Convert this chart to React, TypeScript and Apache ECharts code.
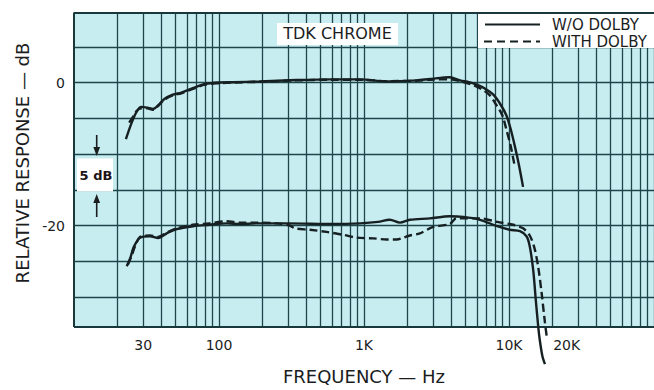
import React, { useEffect, useRef } from "react";
import * as echarts from "echarts";

// ---------- data ----------
const UPPER_SOLID_F = [22.8, 25, 27, 29, 32, 35, 38, 42, 48, 55, 62, 70, 80, 100, 125, 190, 340, 600, 940, 1430, 2300, 2850, 3900, 4600, 5300, 6000, 6900, 7800, 8700, 9600, 10300, 11000, 11700, 12500];
const UPPER_SOLID_DB = [-7.9, -5.6, -4.1, -3.4, -3.5, -3.7, -3.2, -2.3, -1.7, -1.4, -1.0, -0.6, -0.2, 0, 0.05, 0.15, 0.35, 0.45, 0.45, 0.15, 0.3, 0.5, 0.75, 0.3, 0.05, -0.3, -0.9, -1.7, -3.0, -4.6, -6.6, -9.0, -11.5, -14.6];

const UPPER_DASH_F = [24, 25.5, 27, 29, 32, 35, 38, 42, 48, 55, 62, 70, 80, 100, 125, 190, 340, 600, 940, 1430, 2300, 2850, 3900, 4600, 5600, 6450, 7300, 8100, 9000, 9600, 10300, 10900];
const UPPER_DASH_DB = [-5.6, -4.8, -4.0, -3.6, -3.6, -3.8, -3.3, -2.4, -1.8, -1.5, -1.1, -0.7, -0.3, -0.1, 0.0, 0.1, 0.3, 0.4, 0.4, 0.2, 0.25, 0.4, 0.45, 0.2, -0.3, -0.9, -1.7, -3.0, -4.6, -6.6, -9.0, -11.5];

const LOWER_SOLID_F = [23.1, 24.5, 25.7, 28.5, 33.4, 38.1, 43.6, 51.1, 66.5, 86, 113, 140, 182, 307, 610, 940, 1250, 1505, 1770, 2070, 2850, 3900, 4850, 6300, 8300, 10100, 11900, 13200, 13900, 14700, 15300, 15900, 16300, 17000, 17700];
const LOWER_SOLID_DB = [-25.7, -24.5, -23.1, -21.7, -21.5, -21.75, -21.1, -20.5, -20.1, -19.9, -19.7, -19.8, -19.7, -19.7, -19.8, -19.7, -19.5, -19.2, -19.6, -19.2, -19.0, -18.7, -18.8, -19.2, -20.1, -20.6, -20.8, -21.5, -22.9, -26.3, -30.4, -34.1, -36.0, -38.3, -39.4];

const LOWER_DASH_F = [23.5, 25, 26.5, 28.5, 33.4, 38, 43.6, 51, 66, 86, 113, 140, 182, 250, 307, 335, 424, 552, 717, 890, 1160, 1430, 1680, 1870, 2070, 2430, 3000, 3900, 4340, 6300, 8300, 10700, 12500, 13900, 15000, 15900, 16800, 17700, 18200];
const LOWER_DASH_DB = [-25.5, -24.2, -22.8, -21.6, -21.4, -21.6, -21.0, -20.4, -19.9, -19.7, -19.4, -19.6, -19.6, -19.7, -20.0, -20.4, -20.6, -20.9, -21.3, -21.7, -21.8, -21.95, -21.95, -21.7, -21.4, -21.1, -20.2, -19.8, -19.0, -19.0, -19.5, -19.9, -20.4, -21.4, -23.2, -25.8, -29.5, -33.6, -35.5];

const X_LABEL_VALUES = [30, 100, 1000, 10000, 20000];
const X_LABEL_TEXT = ["30", "100", "1K", "10K", "20K"];
const Y_LABEL_VALUES = [0, -20];
const Y_LABEL_TEXT = ["0", "-20"];
const GRID_DB = [-30, -25, -20, -15, -10, -5, 0, 5];
const X_MIN = 10;
const X_MAX = 100000;
const Y_MIN = -34.2;
const Y_MAX = 9.8;

const SERIES_SOLID = "W/O DOLBY";
const SERIES_DASH = "WITH DOLBY";

// ---------- styles ----------
const FONT = "DejaVu Sans";
const INK = "#1b1d1e";
const GRID_COLOR = "#1d464b";
const PAPER = "#c8edf1";
const CURVE = "#162022";

const gridFreqs: number[] = [];
for (const dec of [10, 100, 1000, 10000]) {
  for (let k = 2; k <= 9; k++) gridFreqs.push(dec * k);
  gridFreqs.push(dec * 10);
}

const zip = (f: number[], d: number[]) => f.map((v, i) => [v, d[i]]);

function labelIndex(v: number) {
  return X_LABEL_VALUES.findIndex((c) => Math.abs(Math.log10(c) - Math.log10(v)) < 0.01);
}

export default function App() {
  const ref = useRef<HTMLDivElement>(null);
  useEffect(() => {
    if (!ref.current) return;
    const chart = echarts.init(ref.current, null, { renderer: "svg" });

    const curve = (name: string, data: number[][], dashed: boolean) => ({
      type: "line",
      name,
      data,
      symbol: "none",
      showSymbol: false,
      smooth: 0.3,
      clip: false,
      z: 5,
      silent: true,
      lineStyle: { color: CURVE, width: 2.4, type: dashed ? [8, 4] : "solid" },
    });

    const option: any = {
      animation: false,
      backgroundColor: "#ffffff",
      grid: {
        left: 74,
        right: 0,
        top: 12.5,
        bottom: 56.3,
        show: true,
        backgroundColor: PAPER,
        borderWidth: 0,
      },
      xAxis: {
        type: "log",
        logBase: 10,
        min: X_MIN,
        max: X_MAX,
        axisLine: { show: false },
        axisTick: { show: false },
        splitLine: { show: false },
        axisLabel: {
          customValues: X_LABEL_VALUES,
          margin: 11,
          fontSize: 14,
          fontFamily: FONT,
          color: INK,
          formatter: (v: number) => {
            const i = labelIndex(v);
            if (i < 0) return "";
            return i === X_LABEL_VALUES.length - 1 ? "{s|" + X_LABEL_TEXT[i] + "}" : X_LABEL_TEXT[i];
          },
          rich: { s: { padding: [0, 0, 0, 28], fontSize: 14, fontFamily: FONT, color: INK } },
        },
        name: "FREQUENCY — Hz",
        nameLocation: "middle",
        nameGap: 40,
        nameTextStyle: { fontSize: 18, fontFamily: FONT, color: INK },
      },
      yAxis: {
        type: "value",
        min: Y_MIN,
        max: Y_MAX,
        axisLine: { show: false },
        axisTick: { show: false },
        splitLine: { show: false },
        axisLabel: {
          customValues: Y_LABEL_VALUES,
          margin: 9,
          fontSize: 14,
          fontFamily: FONT,
          color: INK,
          formatter: (v: number) => {
            const i = Y_LABEL_VALUES.findIndex((c) => Math.abs(c - v) < 0.01);
            return i < 0 ? "" : Y_LABEL_TEXT[i];
          },
        },
      },
      series: [
        {
          type: "line",
          name: "grid",
          data: [],
          z: 1,
          silent: true,
          markLine: {
            silent: true,
            symbol: ["none", "none"],
            label: { show: false },
            emphasis: { disabled: true },
            lineStyle: { color: GRID_COLOR, width: 1.3, type: "solid" },
            data: [
              ...gridFreqs.map((f) => ({ xAxis: f })),
              ...GRID_DB.map((d) => ({ yAxis: d })),
              { xAxis: X_MIN, lineStyle: { width: 2, color: "#18383b" } },
              { yAxis: Y_MIN, lineStyle: { width: 2, color: "#18383b" } },
              { yAxis: Y_MAX, lineStyle: { width: 2, color: "#18383b" } },
            ],
          },
        },
        curve(SERIES_SOLID, zip(UPPER_SOLID_F, UPPER_SOLID_DB), false),
        curve(SERIES_DASH, zip(UPPER_DASH_F, UPPER_DASH_DB), true),
        curve(SERIES_SOLID, zip(LOWER_SOLID_F, LOWER_SOLID_DB), false),
        curve(SERIES_DASH, zip(LOWER_DASH_F, LOWER_DASH_DB), true),
      ],
      graphic: [
        // y axis title
        {
          type: "text",
          x: 22,
          y: 163,
          rotation: Math.PI / 2,
          z: 100,
          style: {
            text: "RELATIVE RESPONSE — dB",
            font: `18px "${FONT}"`,
            fill: INK,
            align: "center",
            verticalAlign: "middle",
          },
        },
        // TDK CHROME box
        { type: "rect", z: 100, shape: { x: 277, y: 23, width: 121, height: 22 }, style: { fill: "#ffffff" } },
        {
          type: "text",
          x: 337.5,
          y: 33,
          z: 101,
          style: { text: "TDK CHROME", font: `16px "${FONT}"`, fill: INK, align: "center", verticalAlign: "middle" },
        },
        // legend box
        { type: "rect", z: 100, shape: { x: 478, y: 14, width: 176, height: 34 }, style: { fill: "#ffffff" } },
        { type: "line", z: 101, shape: { x1: 485, y1: 24.5, x2: 540, y2: 24.5 }, style: { stroke: CURVE, lineWidth: 2.2 } },
        {
          type: "line",
          z: 101,
          shape: { x1: 484, y1: 41.5, x2: 540, y2: 41.5 },
          style: { stroke: CURVE, lineWidth: 2.2, lineDash: [8, 5] },
        },
        {
          type: "text",
          x: 552,
          y: 24.5,
          z: 101,
          style: { text: SERIES_SOLID, font: `15px "${FONT}"`, fill: INK, align: "left", verticalAlign: "middle" },
        },
        {
          type: "text",
          x: 552,
          y: 41.5,
          z: 101,
          style: { text: SERIES_DASH, font: `15px "${FONT}"`, fill: INK, align: "left", verticalAlign: "middle" },
        },
        // 5 dB scale marker
        { type: "rect", z: 100, shape: { x: 77, y: 158.5, width: 36, height: 33 }, style: { fill: "#ffffff" } },
        {
          type: "text",
          x: 96,
          y: 175,
          z: 101,
          style: { text: "5 dB", font: `bold 13px "${FONT}"`, fill: "#201418", align: "center", verticalAlign: "middle" },
        },
        { type: "line", z: 101, shape: { x1: 96.7, y1: 135, x2: 96.7, y2: 150 }, style: { stroke: INK, lineWidth: 1.6 } },
        {
          type: "polygon",
          z: 101,
          shape: { points: [[93.3, 147], [100.1, 147], [96.7, 156]] },
          style: { fill: INK },
        },
        { type: "line", z: 101, shape: { x1: 96.7, y1: 201, x2: 96.7, y2: 217 }, style: { stroke: INK, lineWidth: 1.6 } },
        {
          type: "polygon",
          z: 101,
          shape: { points: [[93.3, 203], [100.1, 203], [96.7, 194]] },
          style: { fill: INK },
        },
      ],
    };

    chart.setOption(option);
    return () => chart.dispose();
  }, []);

  return (
    <div
      ref={ref}
      style={{ position: "fixed", left: 0, top: 0, width: 654, height: 390, background: "#fff" }}
    />
  );
}
